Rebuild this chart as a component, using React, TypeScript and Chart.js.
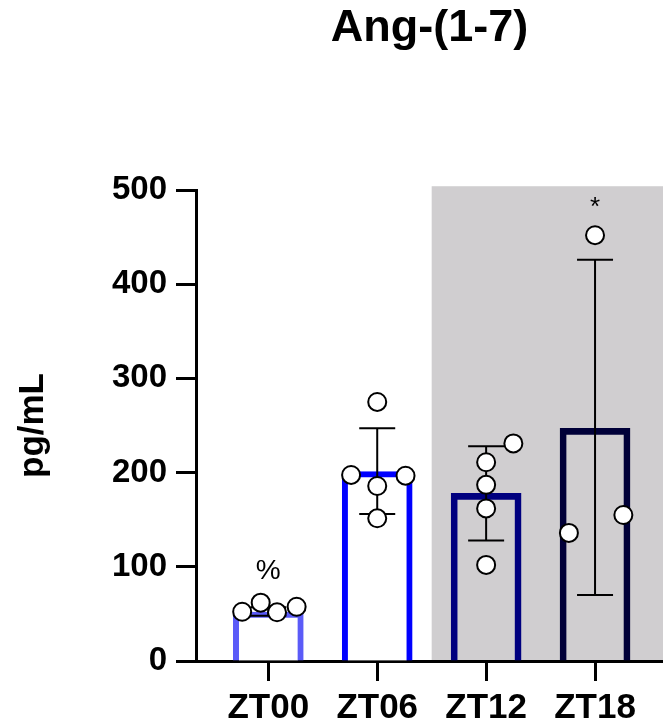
import React, { useEffect, useRef } from 'react';
import { Chart, registerables } from 'chart.js';

Chart.register(...registerables);

// ---- data ----
const categories = ['ZT00', 'ZT06', 'ZT12', 'ZT18'];
const means = [52, 201, 178, 247];
const errLow = [48, 156, 128, 70];
const errHigh = [57, 247, 228, 426];
const pointsZT00 = [52.3, 61.9, 51.7, 57.6];
const pointsZT06 = [197.5, 275, 196.7, 185.8, 151.5];
const pointsZT12 = [231, 211, 187, 162, 102];
const pointsZT18 = [452, 136, 155];
const jitterZT00 = [-0.24, -0.07, 0.08, 0.26];
const jitterZT06 = [-0.24, 0, 0.26, 0, 0];
const jitterZT12 = [0.25, 0, 0, 0, 0];
const jitterZT18 = [0, -0.24, 0.26];
const significance = ['%', '', '', '*'];
const yTicks = [0, 100, 200, 300, 400, 500];
const nightStart = 1.5;
const nightTop = 504;

const pointValues = [pointsZT00, pointsZT06, pointsZT12, pointsZT18];
const pointJitter = [jitterZT00, jitterZT06, jitterZT12, jitterZT18];

const FONT = '"Liberation Sans", Arial, Helvetica, sans-serif';
const barBorderColors = ['#5b5bf8', '#0000ff', '#00007f', '#000038'];
const barFillColors = ['#ffffff', '#ffffff', 'rgba(0,0,0,0)', 'rgba(0,0,0,0)'];

const shadePlugin = {
  id: 'nightShade',
  beforeDraw(chart: any) {
    const { ctx, scales } = chart;
    const x = scales.x;
    const y = scales.y;
    const x0 = x.getPixelForValue(nightStart);
    const yTop = y.getPixelForValue(nightTop);
    const yBot = y.getPixelForValue(0);
    ctx.save();
    ctx.fillStyle = '#d0ced0';
    ctx.fillRect(x0, yTop, chart.width - x0, yBot - yTop);
    ctx.restore();
  },
};

const errorBarPlugin = {
  id: 'errorBars',
  afterDatasetDraw(chart: any, args: any) {
    if (args.index !== 0) return;
    const { ctx, scales } = chart;
    const x = scales.x;
    const y = scales.y;
    ctx.save();
    ctx.strokeStyle = '#000';
    ctx.lineWidth = 2;
    categories.forEach((_, i) => {
      const px = x.getPixelForValue(i);
      const lo = y.getPixelForValue(errLow[i]);
      const hi = y.getPixelForValue(errHigh[i]);
      const half = 18;
      ctx.beginPath();
      ctx.moveTo(px, lo);
      ctx.lineTo(px, hi);
      ctx.moveTo(px - half, lo);
      ctx.lineTo(px + half, lo);
      ctx.moveTo(px - half, hi);
      ctx.lineTo(px + half, hi);
      ctx.stroke();
    });
    ctx.restore();
  },
};

const significancePlugin = {
  id: 'significance',
  afterDatasetsDraw(chart: any) {
    const { ctx, scales } = chart;
    const x = scales.x;
    const y = scales.y;
    ctx.save();
    ctx.fillStyle = '#000';
    ctx.textAlign = 'center';
    ctx.textBaseline = 'middle';
    significance.forEach((s, i) => {
      if (!s) return;
      const top = Math.max(errHigh[i], ...pointValues[i]);
      const px = x.getPixelForValue(i);
      const py = y.getPixelForValue(top) - 31;
      if (s === '*') {
        ctx.font = `26px ${FONT}`;
        ctx.fillText(s, px, py + 4);
      } else {
        ctx.font = `28px ${FONT}`;
        ctx.fillText(s, px, py);
      }
    });
    ctx.restore();
  },
};

export default function App() {
  const canvasRef = useRef<HTMLCanvasElement | null>(null);

  useEffect(() => {
    const canvas = canvasRef.current;
    if (!canvas) return;

    const scatterData: { x: number; y: number }[] = [];
    pointValues.forEach((vals, i) => {
      vals.forEach((v, j) => {
        scatterData.push({ x: i + pointJitter[i][j], y: v });
      });
    });

    const chart = new Chart(canvas, {
      type: 'bar',
      data: {
        datasets: [
          {
            type: 'bar',
            data: means.map((m, i) => ({ x: i, y: m })),
            backgroundColor: barFillColors,
            borderColor: barBorderColors,
            borderWidth: 6,
            borderSkipped: 'bottom',
            barThickness: 70,
            order: 2,
          } as any,
          {
            type: 'scatter',
            data: scatterData,
            pointRadius: 9,
            pointBackgroundColor: '#ffffff',
            pointBorderColor: '#000000',
            pointBorderWidth: 2,
            clip: false,
            order: 1,
          } as any,
        ],
      },
      options: {
        responsive: false,
        animation: false,
        devicePixelRatio: 1,
        layout: { padding: 0, autoPadding: false },
        plugins: {
          legend: { display: false },
          tooltip: { enabled: false },
          title: {
            display: true,
            text: 'Ang-(1-7)',
            color: '#000',
            fullSize: false,
            font: { family: FONT, size: 45, weight: 'bold' },
            padding: { top: 2, bottom: 134 },
          },
        },
        scales: {
          x: {
            type: 'linear',
            min: -0.664,
            max: 3.624,
            offset: false,
            afterBuildTicks: (axis: any) => {
              axis.ticks = categories.map((_, i) => ({ value: i }));
            },
            afterFit: (scale: any) => {
              scale.height = 63;
              scale.paddingLeft = 0;
              scale.paddingRight = 0;
            },
            ticks: {
              color: '#000',
              font: { family: FONT, size: 35, weight: 'bold' },
              padding: 6,
              maxRotation: 0,
              autoSkip: false,
              callback: (v: any) => categories[Math.round(Number(v))] ?? '',
            },
            grid: {
              offset: false,
              drawOnChartArea: false,
              drawTicks: true,
              tickLength: 20,
              tickWidth: 3,
              tickColor: '#000',
              color: '#000',
            },
            border: { display: true, color: '#000', width: 3 },
          },
          y: {
            type: 'linear',
            min: 0,
            max: 500,
            afterBuildTicks: (axis: any) => {
              axis.ticks = yTicks.map((v) => ({ value: v }));
            },
            afterFit: (scale: any) => {
              scale.width = 196;
            },
            ticks: {
              color: '#000',
              font: { family: FONT, size: 33, weight: 'bold' },
              padding: 9,
            },
            grid: {
              drawOnChartArea: false,
              drawTicks: true,
              tickLength: 20,
              tickWidth: 3,
              tickColor: '#000',
              color: '#000',
            },
            border: { display: true, color: '#000', width: 3 },
            title: {
              display: true,
              text: 'pg/mL',
              color: '#000',
              font: { family: FONT, size: 35, weight: 'bold' },
              padding: { top: 12, bottom: 0 },
            },
          },
        },
      } as any,
      plugins: [shadePlugin, errorBarPlugin, significancePlugin],
    });

    return () => chart.destroy();
  }, []);

  return (
    <div style={{ position: 'absolute', left: 0, top: 0, width: 663, height: 724 }}>
      <canvas ref={canvasRef} width={663} height={724} style={{ display: 'block' }} />
    </div>
  );
}
